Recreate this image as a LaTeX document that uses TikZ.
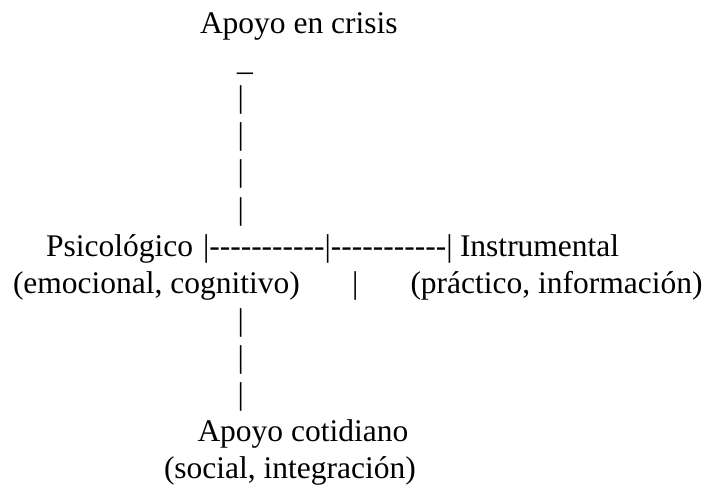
\documentclass[tikz,border=0pt]{standalone}
\usepackage{fontspec}
\setmainfont{Liberation Serif}
\newcommand{\hy}{\mbox{-}}
\newcommand{\dashrun}{\hy\hy\hy\hy\hy\hy\hy\hy\hy\hy\hy}
\tikzset{
  txt/.style={anchor=base west, inner sep=0pt, outer sep=0pt,
              font=\fontsize{31.5}{37}\selectfont, text=black}
}
\begin{document}
\begin{tikzpicture}[x=1pt,y=-1pt]
\useasboundingbox[fill=white] (0,0) rectangle (716,495);
% top
\node[txt] (crisis) at (200,34) {Apoyo en crisis};
\node[txt] (tick) at (237,71) {\_};
\node[txt] (ua) at (237.5,108) {|};
\node[txt] (ub) at (237.5,145) {|};
\node[txt] (uc) at (237.5,182) {|};
\node[txt] (ud) at (237.5,219) {|};
% middle row
\node[txt] (psico) at (46,256) {Psicológico};
\node[txt] (axis) at (203,256) {|\dashrun|\dashrun|};
\node[txt] (instr) at (460,256) {Instrumental};
\node[txt] (psicosub) at (13,293) {(emocional, cognitivo)};
\node[txt] (midbar) at (352,293) {|};
\node[txt] (instrsub) at (410.5,293) {(práctico, información)};
% bottom
\node[txt] (la) at (237.5,330) {|};
\node[txt] (lb) at (237.5,367) {|};
\node[txt] (lc) at (237.5,404) {|};
\node[txt] (cotid) at (197.5,441) {Apoyo cotidiano};
\node[txt] (cotidsub) at (164,478) {(social, integración)};
\end{tikzpicture}
\end{document}
